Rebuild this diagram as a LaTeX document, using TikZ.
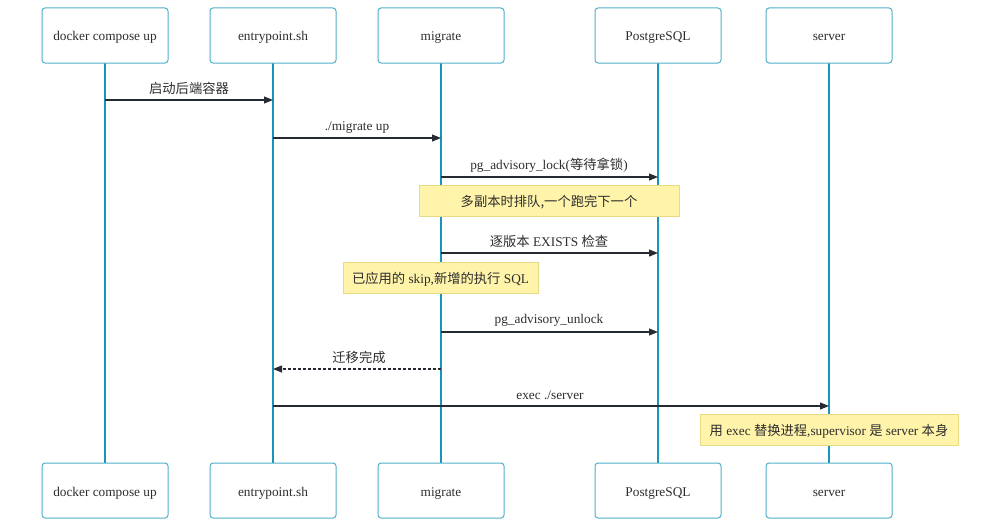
\documentclass[tikz,border=0pt]{standalone}
\usepackage{fontspec}
\setmainfont{Liberation Serif}
\newfontfamily\cjk{Noto Sans CJK SC}
\usetikzlibrary{arrows.meta}
\definecolor{boxline}{RGB}{80,176,200}
\definecolor{life}{RGB}{24,150,186}
\definecolor{msg}{RGB}{38,42,50}
\definecolor{notefill}{RGB}{255,244,170}
\definecolor{noteline}{RGB}{232,218,130}
\definecolor{txt}{RGB}{45,45,45}
\begin{document}
\begin{tikzpicture}[x=1pt,y=-1pt,
  tx/.style={text height=11pt,text depth=0pt},
  actor/.style={tx,draw=boxline,line width=1pt,rounded corners=3pt,fill=white,minimum width=126pt,minimum height=55pt,inner sep=0pt,font=\fontsize{13.3}{15}\selectfont,text=txt},
  lifeline/.style={draw=life,line width=1.4pt},
  msgline/.style={draw=msg,line width=1.1pt,-{Triangle[length=9pt,width=7pt]}},
  msglabel/.style={tx,font=\fontsize{13.3}{15}\selectfont,text=txt,inner sep=0pt},
  note/.style={tx,draw=noteline,fill=notefill,line width=0.8pt,inner sep=0pt,font=\fontsize{13.3}{15}\selectfont,text=txt,minimum height=31pt}]
\useasboundingbox (0,0) rectangle (1000,527);
% lifelines
\foreach \n/\x in {a/105,b/273,c/441,d/658,e/829}{
  \coordinate (\n t) at (\x,63);
  \coordinate (\n b) at (\x,463);
}
\draw[lifeline] (at) -- (ab);
\draw[lifeline] (bt) -- (bb);
\draw[lifeline] (ct) -- (cb);
\draw[lifeline] (dt) -- (db);
\draw[lifeline] (et) -- (eb);
% actors
\node[actor] (a1) at (105,35.5) {docker compose up};
\node[actor] (b1) at (273,35.5) {entrypoint.sh};
\node[actor] (c1) at (441,35.5) {migrate};
\node[actor] (d1) at (658,35.5) {PostgreSQL};
\node[actor] (e1) at (829,35.5) {server};
\node[actor] (a2) at (105,490.5) {docker compose up};
\node[actor] (b2) at (273,490.5) {entrypoint.sh};
\node[actor] (c2) at (441,490.5) {migrate};
\node[actor] (d2) at (658,490.5) {PostgreSQL};
\node[actor] (e2) at (829,490.5) {server};
% message coordinates
\foreach \n/\x in {a/105,b/273,c/441,d/658,e/829}{
  \coordinate (\n1m) at (\x,100);
  \coordinate (\n2m) at (\x,138);
  \coordinate (\n3m) at (\x,177);
  \coordinate (\n5m) at (\x,253);
  \coordinate (\n7m) at (\x,332);
  \coordinate (\n8m) at (\x,369);
  \coordinate (\n9m) at (\x,406);
}
\draw[msgline] (a1m) -- (b1m);
\node[msglabel] (l1) at (189,88) {\cjk 启动后端容器};
\draw[msgline] (b2m) -- (c2m);
\node[msglabel] (l2) at (357,125) {./migrate up};
\draw[msgline] (c3m) -- (d3m);
\node[msglabel] (l3) at (549,164) {pg\_advisory\_lock({\cjk 等待拿锁})};
\node[note,minimum width=260pt] (n1) at (549,200.5) {{\cjk 多副本时排队,一个跑完下一个}};
\draw[msgline] (c5m) -- (d5m);
\node[msglabel] (l5) at (549,241) {{\cjk 逐版本} EXISTS {\cjk 检查}};
\node[note,minimum width=195pt] (n2) at (440.5,277.5) {{\cjk 已应用的} skip,{\cjk 新增的执行} SQL};
\draw[msgline] (c7m) -- (d7m);
\node[msglabel] (l7) at (549,318) {pg\_advisory\_unlock};
\draw[msgline,dashed,dash pattern=on 3pt off 2pt] (c8m) -- (b8m);
\node[msglabel] (l8) at (359,357) {\cjk 迁移完成};
\draw[msgline] (b9m) -- (e9m);
\node[msglabel] (l9) at (550,394) {exec ./server};
\node[note,minimum width=258pt] (n3) at (829,430) {{\cjk 用} exec {\cjk 替换进程},supervisor {\cjk 是} server {\cjk 本身}};
\end{tikzpicture}
\end{document}
